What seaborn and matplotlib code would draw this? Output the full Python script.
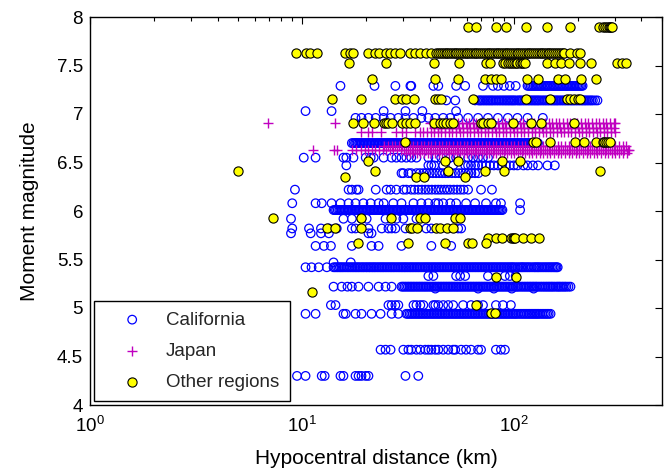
import matplotlib
matplotlib.use("Agg")
import matplotlib.pyplot as plt
import pandas as pd
import seaborn as sns
from matplotlib.ticker import LogLocator, FixedLocator, FixedFormatter, NullFormatter

# ---------------- data (hypocentral distance in km, grouped by event magnitude) -------------
# California
cal_729 = [15.2, 22.0, 27.6, 32.5, 32.8, 41.7, 44.0, 53.4, 58.9, 71.5, 79.7, 84.1, 89.8, 95.7, 102,
           116, 120, 124, 128, 132, 136, 141, 145, 150, 155, 160, 165, 170, 176, 181, 187, 193, 199, 205, 211]
cal_729b = [118, 122, 126, 130, 134, 138.5, 143, 147.5, 152.5, 157.5, 162.5, 167.5, 173, 178.5, 184,
            190, 196, 202, 208]
cal_714 = [48.0, 52.9, 65.6, 68, 70, 72.5, 75, 77.5, 80, 83, 86, 89, 92, 95, 98, 101, 105, 108, 112, 116,
           120, 124, 128, 132, 137, 142, 147, 152, 157, 162, 168, 174, 180, 186, 192, 199, 206, 213, 220,
           228, 236, 248]
cal_714b = [69, 71.2, 73.7, 76.2, 78.7, 81.5, 84.5, 87.5, 90.5, 93.5, 96.5, 99.5, 103, 106.5, 110, 114,
            118, 122, 126, 130, 134.5, 139.5, 144.5, 149.5, 154.5, 159.5, 165, 171, 177, 183, 189,
            195.5, 202.5, 209.5, 216.5, 224, 232, 242]
cal_703 = [10.4, 13.8, 24.3, 30.8, 37.0, 53.4]
cal_696 = [17.9, 19.1, 20.6, 22.3, 24.3, 26.2, 28.5, 30.8, 33.6, 36.6, 39.5, 42.6, 46.4, 50.1, 54.6,
           60.8, 67.8, 75.5, 84.1, 93.7, 104, 116, 137]
cal_670 = [17.2, 17.8, 18.3, 18.9, 19.5, 20.1, 20.7, 21.3, 22.0, 22.7, 23.4, 24.1, 24.8, 25.6, 26.4,
           27.2, 28.0, 28.9, 29.8, 30.7, 31.6, 32.6, 33.6, 34.6, 35.7, 36.8, 37.9, 39.1, 40.3, 41.5,
           42.8, 44.1, 45.5, 46.9, 48.3, 49.8, 51.3, 52.9, 54.5, 56.2, 57.9, 59.7, 61.5, 63.4, 65.4,
           67.4, 69.5, 71.6, 73.8, 76.1, 78.4, 80.8, 83.3, 85.9, 88.5, 91.2, 94.0, 96.9, 99.9, 103,
           106, 109, 113, 116, 120, 123, 127, 130]
cal_670b = [17.5, 18.05, 18.6, 19.2, 19.8, 20.4, 21.0, 21.65, 22.35, 23.05, 23.75, 24.45, 25.2, 26.0,
            26.8, 27.6, 28.45, 29.35, 30.25, 31.15, 32.1, 33.1, 34.1, 35.15, 36.25, 37.35, 38.5, 39.7,
            40.9, 42.15, 43.45, 44.8, 46.2, 47.6, 49.05, 50.55, 52.1, 53.7, 55.35, 57.05, 58.8, 60.6,
            62.45, 64.4, 66.4, 68.45, 70.55, 72.7, 74.95, 77.25, 79.6, 82.05, 84.6, 87.2, 89.85, 92.6,
            95.45, 98.4, 101.5, 104.5, 107.5, 111, 114.5, 118, 121.5, 125, 128.5]
cal_655 = [10.2, 11.6, 15.7, 16.2, 17.5, 20.0, 21.1, 21.8, 24.3, 26.5, 27.9, 29.5, 31.1, 32.8, 34.7,
           39.5, 42.6, 45.4, 50.1, 53.4, 60.8, 64.2, 67.8, 71.5, 75.5]
cal_647 = [16.2, 39.5, 40.8, 42.1, 46.4, 51.7, 58.9, 60.8, 62.8, 65.6, 67.8, 70.7, 73.9, 77.1, 80.5,
           84.1, 87.9, 91.7, 95.7, 100, 104, 111, 116, 123, 130, 144, 156]
cal_639 = [29.5, 30.1, 31.8, 32.8, 34.7, 36, 37.4, 38.6, 40, 41.5, 43, 44.5, 46, 47.5, 49, 51, 53, 55,
           57, 59, 61, 63, 65.6, 68]
cal_622 = [9.27, 16.6, 17.2, 18.1, 18.5, 22.3, 25.1, 26.2, 27.9, 30.1, 31.1, 32.8, 34, 35.4, 36.8, 38.2,
           39.5, 41, 42.6, 44, 45.4, 47, 48.5, 50, 52, 54, 56, 58, 60.8, 70.0, 78.8]
cal_608 = [9.0, 11.6, 12.4, 13.8, 15.2, 16.6, 17.9, 19.5, 21.1, 23.0, 24.3, 27.0, 29.5, 33.6, 36.6,
           39.5, 42.6, 44.0, 46.4, 50.1, 53.4, 59.5, 65.6, 73.9, 82.3, 86.9, 107]
cal_601 = [14.1, 14.5, 15.0, 15.4, 15.9, 16.4, 16.9, 17.4, 17.9, 18.4, 19.0, 19.6, 20.2, 20.8, 21.4,
           22.0, 22.7, 23.4, 24.1, 24.8, 25.5, 26.3, 27.1, 27.9, 28.7, 29.6, 30.5, 31.4, 32.3, 33.3,
           34.3, 35.3, 36.4, 37.5, 38.6, 39.8, 41.0, 42.2, 43.5, 44.8, 46.1, 47.5, 48.9, 50.4, 51.9,
           53.5, 55.1, 56.7, 58.4, 60.2, 62.0, 63.8, 65.7, 67.7, 69.7, 71.8, 74.0, 76.2, 78.5, 80.8,
           83.2, 85.7, 88.3, 107]
cal_601b = [14.3, 14.75, 15.2, 15.65, 16.15, 16.65, 17.15, 17.65, 18.15, 18.7, 19.3, 19.9, 20.5, 21.1,
            21.7, 22.35, 23.05, 23.75, 24.45, 25.15, 25.9, 26.7, 27.5, 28.3, 29.15, 30.05, 30.95,
            31.85, 32.8, 33.8, 34.8, 35.85, 36.95, 38.05, 39.2, 40.4, 41.6, 42.85, 44.15, 45.45, 46.8,
            48.2, 49.65, 51.15, 52.7, 54.3, 55.9, 57.55, 59.3, 61.1, 62.9, 64.75, 66.7, 68.7, 70.75,
            72.9, 75.1, 77.35, 79.65, 82.0, 84.45, 87.0]
cal_592 = [8.88, 15.7, 17.2, 19.1, 20.2, 24.8, 27.9, 30.1, 34.7]
cal_582 = [9.0, 10.8, 12.3, 13.4, 14.6, 17.2, 17.9, 20.6, 23.8, 25.6, 26.5, 27.6, 30.8, 38.6, 40.8,
           54.6, 56.4]
cal_577 = [8.88, 11.0, 12.3, 13.4, 20.6, 21.3]
cal_564 = [11.6, 12.7, 13.7, 17.2, 21.3, 23.0, 29.5, 40.8, 50.6]
cal_547 = [14.1, 17.0]
cal_542 = [10.4, 11.1, 12.0, 13.1, 14.1, 14.6, 15.1, 15.6, 16.2, 16.8, 17.4, 18.0, 18.6, 19.3, 20.0,
           20.7, 21.4, 22.1, 22.9, 23.7, 24.5, 25.4, 26.3, 27.2, 28.2, 29.2, 30.2, 31.2, 32.3, 33.4,
           34.6, 35.8, 37.1, 38.4, 39.7, 41.1, 42.5, 44.0, 45.5, 47.1, 48.8, 50.5, 52.3, 54.1, 56.0,
           58.0, 60.0, 62.1, 64.3, 66.5, 68.8, 71.2, 73.7, 76.3, 79.0, 81.7, 84.6, 87.5, 90.6, 93.8,
           97.0, 100, 104, 108, 111, 115, 119, 124, 128, 132, 137, 142, 147, 152, 157, 161]
cal_542b = [14.35, 14.85, 15.35, 15.9, 16.5, 17.1, 17.7, 18.3, 18.95, 19.6, 20.3, 21.0, 21.75, 22.5,
            23.3, 24.1, 24.95, 25.85, 26.75, 27.7, 28.7, 29.7, 30.7, 31.75, 32.85, 34.0, 35.2, 36.45,
            37.75, 39.05, 40.4, 41.8, 43.25, 44.75, 46.3, 47.95, 49.65, 51.4, 53.2, 55.05, 57.0, 59.0,
            61.05, 63.2, 65.4, 67.65, 70.0, 72.45, 75.0, 77.65, 80.35, 83.15, 86.05, 89.05, 92.2,
            95.4, 98.5, 102, 106, 109.5, 113, 117, 121.5, 126, 130, 134.5, 139.5, 144.5, 149.5,
            154.5, 159]
cal_533 = [39.5, 41.7, 53.4, 55.8, 58.9, 75.5, 90.7, 95.7, 102]
cal_522 = [14.1, 15.4, 16.4, 17.2, 18.5, 20.6, 23.0, 24.8, 26.5, 29.5, 30.5, 31.6, 32.7, 33.8, 35.0,
           36.2, 37.5, 38.8, 40.2, 41.6, 43.0, 44.5, 46.1, 47.7, 49.4, 51.1, 52.9, 54.7, 56.6, 58.6,
           60.7, 62.8, 65.0, 67.3, 69.6, 72.1, 74.6, 77.2, 79.9, 82.7, 85.6, 88.6, 91.7, 94.9, 98.2,
           102, 105, 109, 113, 117, 121, 125, 129, 134, 139, 144, 149, 154, 160, 165, 171, 177, 185]
cal_522b = [30.0, 31.05, 32.15, 33.25, 34.4, 35.6, 36.85, 38.15, 39.5, 40.9, 42.3, 43.75, 45.3, 46.9,
            48.55, 50.25, 52.0, 53.8, 55.65, 57.6, 59.65, 61.75, 63.9, 66.15, 68.45, 70.85, 73.35,
            75.9, 78.55, 81.3, 84.15, 87.1, 90.15, 93.3, 96.55, 100, 103.5, 107, 111, 115, 119, 123,
            127, 131.5, 136.5, 141.5, 146.5, 151.5, 157, 162.5, 168, 174, 181]
cal_520 = [42.6, 67.8, 80.5, 97.8, 124]
cal_503 = [13.7, 14.4, 25.6, 26.5, 27.6, 28.5, 33.6, 34.7, 36.2, 37.4, 41.7, 42.6, 44.0, 46.4, 49.0,
           51.7, 57.6, 62.8, 67.8, 71.5, 82.3, 88.8, 96.8]
cal_494 = [10.4, 11.6, 15.7, 16.1, 17.9, 19.1, 21.3, 23.5, 26.5, 28.5, 31.1, 32.2, 33.3, 34.5, 35.7,
           36.9, 38.2, 39.5, 40.9, 42.3, 43.8, 45.3, 46.9, 48.5, 50.2, 52.0, 53.8, 55.7, 57.6, 59.6,
           61.7, 63.9, 66.1, 68.4, 70.8, 73.3, 75.9, 78.5, 81.3, 84.1, 87.0, 90.1, 93.2, 96.5, 99.9,
           103, 107, 111, 115, 119, 123, 127, 131, 136, 141, 146, 149]
cal_494b = [31.6, 32.75, 33.9, 35.1, 36.3, 37.55, 38.85, 40.2, 41.6, 43.05, 44.55, 46.1, 47.7, 49.35,
            51.1, 52.9, 54.75, 56.65, 58.6, 60.65, 62.8, 65.0, 67.25, 69.6, 72.05, 74.6, 77.2, 79.9,
            82.7, 85.55, 88.55, 91.65, 94.85, 98.2, 101.5, 105, 109, 113, 117, 121, 125, 129, 133.5,
            138.5, 143.5]
cal_457 = [23.5, 24.8, 26.2, 30.1, 31.8, 32.8, 34.7, 36.2, 38.2, 39.5, 40.8, 42.6, 44.0, 46.4, 49.0,
           51.7, 52.9, 56.4, 59.5, 62.8, 67.8, 70.0, 82.3, 86.9, 90.7]
cal_430 = [9.48, 10.4, 12.4, 12.8, 15.2, 15.7, 17.9, 18.5, 19.1, 20.0, 20.6, 30.8, 35.4]

california_bands = [(7.29, cal_729), (7.29, cal_729b), (7.14, cal_714), (7.14, cal_714b),
                    (7.03, cal_703), (6.96, cal_696), (6.70, cal_670), (6.70, cal_670b),
                    (6.55, cal_655), (6.47, cal_647), (6.39, cal_639), (6.22, cal_622),
                    (6.08, cal_608), (6.01, cal_601), (6.01, cal_601b), (5.92, cal_592),
                    (5.82, cal_582), (5.77, cal_577), (5.64, cal_564), (5.47, cal_547),
                    (5.42, cal_542), (5.42, cal_542b), (5.33, cal_533), (5.22, cal_522),
                    (5.22, cal_522b), (5.20, cal_520), (5.03, cal_503), (4.94, cal_494),
                    (4.94, cal_494b), (4.57, cal_457), (4.30, cal_430)]

# Japan
jp_691 = [6.9, 14.3, 40, 41.6, 43.3, 45, 46.8, 48.7, 50.6, 52.6, 54.7, 56.9, 59.2, 61.6, 64, 66.6,
          69.3, 72, 74.9, 77.9, 81, 84.3, 87.6, 91.1, 94.8, 98.6, 102.5, 106.6, 110.9, 115.3, 119.9,
          124.7, 129.7, 134.9, 140.3, 145.9, 151.7, 157.8, 164.1, 170.6, 177.5, 184.6, 192, 199.6,
          207.6, 215.9, 224.6, 233.5, 242.9, 252.6, 262.7, 273.2, 284.1, 295.5, 300]
jp_686 = [42, 43.7, 45.5, 47.3, 49.2, 51.2, 53.2, 55.3, 57.5, 59.8, 62.2, 64.7, 67.3, 70, 72.8, 75.7,
          78.7, 81.9, 85.2, 88.6, 92.1, 95.8, 99.6, 103.6, 107.7, 112, 116.5, 121.2, 126, 131, 136.3,
          141.7, 147.4, 153.3, 159.4, 165.8, 172.4, 179.3, 186.5, 194, 201.7, 209.8, 218.2, 226.9,
          236, 245.4, 255.2, 265.4, 276, 287, 296]
jp_681 = [19.1, 20.6, 21.3, 23.5, 27.9, 29.5, 31.1, 34.3, 36, 37.4, 38.9, 40.5, 42.1, 43.8, 45.5,
          47.4, 49.2, 51.2, 53.3, 55.4, 57.6, 59.9, 62.3, 64.8, 67.4, 70.1, 72.9, 75.8, 78.8, 82,
          85.3, 88.7, 92.2, 95.9, 99.7, 103.7, 107.9, 112.2, 116.7, 121.3, 126.2, 131.2, 136.5,
          141.9, 147.6, 153.5, 159.7, 166.1, 172.7, 179.6, 186.8, 194.3, 202, 210.1, 218.5, 227.2,
          236.3, 245.8, 255.6, 265.8, 276.5, 287.5, 299]
jp_668 = [24.5, 25.5, 26.5, 27.5, 28.6, 29.8, 31, 32.2, 33.5, 34.9, 36.3, 37.7, 39.2, 40.8, 42.4, 44.1,
          45.9, 47.7, 49.6, 51.6, 53.7, 55.8, 58.1, 60.4, 62.8, 65.3, 67.9, 70.6, 73.5, 76.4, 79.5,
          82.6, 85.9, 89.4, 93, 96.7, 100.5, 104.6, 108.7, 113.1, 117.6, 122.3, 127.2, 132.3, 137.6,
          143.1, 148.8, 154.8, 161, 167.4, 174.1, 181.1, 188.3, 195.8, 203.7, 211.8, 220.3, 229.1,
          238.3, 247.8, 257.7, 268, 278.7, 289.9, 301.5, 313.5, 326, 338]
jp_663 = [11.3, 14.1, 14.6, 17.2, 17.9, 19, 19.8, 20.6, 21.4, 22.2, 23.1, 24, 25, 26, 27, 28.1, 29.2,
          30.4, 31.6, 32.9, 34.2, 35.6, 37, 38.5, 40, 41.6, 43.3, 45, 46.8, 48.7, 50.6, 52.6, 54.7,
          56.9, 59.2, 61.6, 64, 66.6, 69.3, 72, 74.9, 77.9, 81, 84.3, 87.6, 91.1, 94.8, 98.6, 102.5,
          106.6, 110.9, 115.3, 119.9, 124.7, 129.7, 134.9, 140.3, 145.9, 151.7, 157.8, 164.1, 170.6,
          177.5, 184.6, 192, 199.6, 207.6, 215.9, 224.6, 233.5, 242.9, 252.6, 262.7, 273.2, 284.1,
          295.5, 307.3, 319.6, 332.4, 345.7, 351]
jp_660 = [30.9, 32.2, 33.5, 34.8, 36.2, 37.7, 39.2, 40.8, 42.4, 44.1, 45.9, 47.7, 49.6, 51.6, 53.7,
          55.8, 58.1, 60.4, 62.8, 65.3, 67.9, 70.6, 73.5, 76.4, 79.5, 82.6, 85.9, 89.4, 93, 96.7,
          100.5, 104.6, 108.7, 113.1, 117.6, 122.3, 127.2, 132.3, 137.6, 143.1, 148.8, 154.8, 161,
          167.4, 174.1, 181.1, 188.3, 195.8, 203.7, 211.8, 220.3, 229.1, 238.3, 247.8, 257.7, 268,
          278.7, 289.9, 301.5, 313.5, 326, 340]

japan_bands = [(6.91, jp_691), (6.86, jp_686), (6.81, jp_681), (6.675, jp_668), (6.63, jp_663),
               (6.595, jp_660)]

# Other regions
oth_790 = [60.8, 66.3, 82.3, 91.7, 114, 144, 185, 253, 262, 270, 276, 280, 285, 288, 292]
oth_763 = [9.4, 10.4, 10.9, 11.8, 16.0, 16.9, 17.5, 20.4, 22.2, 23.0, 25.0, 26.0, 27.6, 29.0, 32.5,
           34.2, 36.2, 38.3, 40.6, 43.0,
           44.0, 44.9, 45.8, 46.7, 47.6, 48.6, 49.5, 50.5, 51.5, 52.6, 53.6, 54.7, 55.8, 56.9, 58.0,
           59.2, 60.4, 61.6, 62.8, 64.1, 65.3, 66.6, 68.0, 69.3, 70.7, 72.1, 73.6, 75.1, 76.6, 78.1,
           79.6, 81.2, 82.9, 84.5, 86.2, 87.9, 89.7, 91.5, 93.3, 95.2, 97.1, 99.0, 101, 103, 105,
           107, 109, 112, 114, 116, 118, 121, 123, 126, 128, 131, 134, 136, 139, 142, 145, 147, 150,
           153, 157, 160, 163, 166, 170, 173, 184, 199, 206]
oth_753 = [16.6, 24.8, 42.1, 55.2, 73.9, 77.1, 88.8, 90.7, 93.7, 95.7, 97.8, 100, 102, 104, 107, 109,
           111, 113, 144, 156, 166, 183, 206, 230, 308, 325, 339]
oth_736 = [21.3, 42.6, 54.6, 73.1, 78.0, 82.3, 86.9, 115, 130, 161, 174, 208, 243]
oth_715 = [13.8, 19.1, 27.6, 29.5, 31.1, 33.9, 42.6, 44.0, 45.4, 64.2, 114, 148, 179, 185, 193, 200, 206]
oth_691 = [17.5, 19.5, 21.8, 24.3, 24.8, 25.6, 26.5, 29.5, 31.1, 32.5, 34.3, 42.1, 44.9, 46.4, 48.0,
           50.1, 51.7, 70.0, 71.5, 75.5, 78.0, 98.9, 120, 134, 193]
oth_671 = [30.8, 123, 127, 148, 195, 215, 243, 262, 267, 273, 279, 285]
oth_652 = [20.6, 47.4, 54.6, 87.9, 107]
oth_641 = [5.0, 22.0, 49.0, 73.1, 89.8, 255]
oth_635 = [15.9, 34.7, 37.8, 58.9]
oth_593 = [7.3, 19.1, 26.2, 36.2, 38.2, 52.9, 55.8]
oth_582 = [13.2, 14.3, 18.9, 32.2, 33.1, 35.0, 42.9, 44.9, 48.5, 51.7]
oth_572 = [75.5, 82.3, 87.9, 96.8, 99, 100, 101, 111, 120, 132]
oth_567 = [18.3, 31.8, 47.4, 60.8, 63.5, 73.9]
oth_532 = [82.3, 102]
oth_516 = [11.1]
oth_503 = [66.3]
oth_495 = [78.0, 81.4]

other_bands = [(7.90, oth_790), (7.63, oth_763), (7.53, oth_753), (7.36, oth_736), (7.15, oth_715),
               (6.91, oth_691), (6.71, oth_671), (6.52, oth_652), (6.41, oth_641), (6.35, oth_635),
               (5.93, oth_593), (5.82, oth_582), (5.72, oth_572), (5.67, oth_567), (5.32, oth_532),
               (5.16, oth_516), (5.03, oth_503), (4.95, oth_495)]

region_names = ["California", "Japan", "Other regions"]
y_ticks = [4, 4.5, 5, 5.5, 6, 6.5, 7, 7.5, 8]
y_tick_labels = ["4", "4.5", "5", "5.5", "6", "6.5", "7", "7.5", "8"]


def build(bands, region):
    rows = []
    for m, ds in bands:
        for d in ds:
            rows.append((d, m, region))
    return rows


rows = (build(california_bands, region_names[0]) + build(japan_bands, region_names[1])
        + build(other_bands, region_names[2]))
df = pd.DataFrame(rows, columns=["distance", "magnitude", "region"])

sns.set_theme(style="white")
plt.rcParams["font.family"] = ["Liberation Sans", "DejaVu Sans"]
plt.rcParams["mathtext.fontset"] = "custom"
plt.rcParams["mathtext.rm"] = "Liberation Sans"
plt.rcParams["mathtext.it"] = "Liberation Sans"

fig = plt.figure(figsize=(6.71, 4.72), dpi=100)
ax = fig.add_axes([90 / 671, 1 - 405 / 472, (662 - 90) / 671, (405 - 17) / 472])

sns.scatterplot(data=df[df.region == region_names[0]], x="distance", y="magnitude", ax=ax,
                marker="o", s=38, facecolor="none", edgecolor="#0000ff", linewidth=0.9,
                label=region_names[0], zorder=2)
sns.scatterplot(data=df[df.region == region_names[1]], x="distance", y="magnitude", ax=ax,
                marker="+", s=55, color="#c000c0", linewidth=1.0,
                label=region_names[1], zorder=3)
sns.scatterplot(data=df[df.region == region_names[2]], x="distance", y="magnitude", ax=ax,
                marker="o", s=44, facecolor="#ffff00", edgecolor="black", linewidth=0.8,
                label=region_names[2], zorder=4)

ax.set_xscale("log")
ax.set_xlim(1, 500)
ax.set_ylim(4, 8)
ax.yaxis.set_major_locator(FixedLocator(y_ticks))
ax.yaxis.set_major_formatter(FixedFormatter(y_tick_labels))
ax.xaxis.set_major_locator(LogLocator(base=10, numticks=10))
ax.xaxis.set_minor_locator(LogLocator(base=10, subs=range(2, 10), numticks=20))
ax.xaxis.set_minor_formatter(NullFormatter())

ax.tick_params(which="both", direction="in", top=True, right=True, colors="black",
               labelsize=13.5, width=0.8)
ax.tick_params(which="major", length=5)
ax.tick_params(which="minor", length=3)
ax.tick_params(axis="x", which="major", pad=8)
ax.tick_params(axis="y", which="major", pad=5)
for sp in ax.spines.values():
    sp.set_color("black")
    sp.set_linewidth(1.0)

ax.set_xlabel("Hypocentral distance (km)", fontsize=15, color="black", labelpad=9)
ax.set_ylabel("Moment magnitude", fontsize=15, color="black", labelpad=13)

leg = ax.legend(loc="lower left", fontsize=13.5, frameon=True, fancybox=False, framealpha=1,
                edgecolor="black", borderaxespad=0.2, borderpad=0.55, handlelength=3.0,
                handletextpad=0.3, labelspacing=0.75, scatterpoints=1)
leg.get_frame().set_linewidth(1.0)

fig.savefig("out.png", dpi=100)
